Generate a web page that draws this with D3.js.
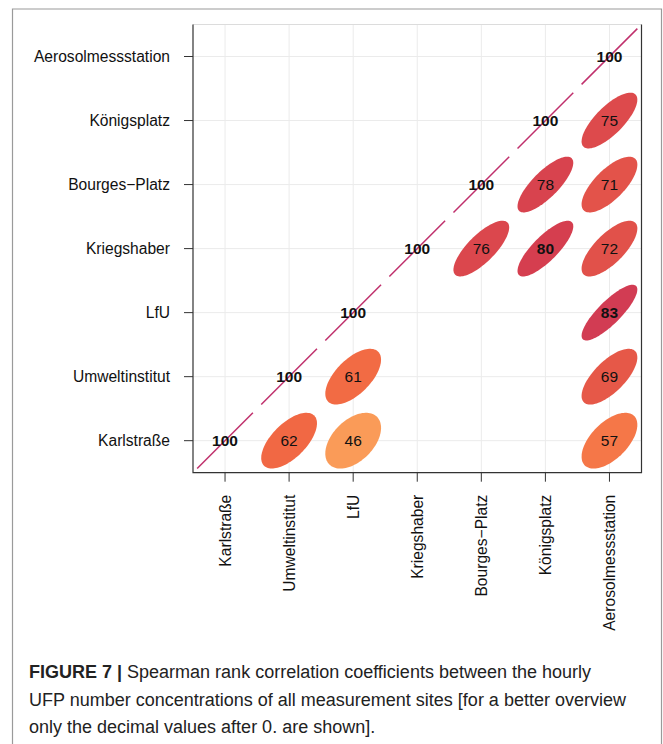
<!DOCTYPE html>
<html>
<head>
<meta charset="utf-8">
<script src="https://cdn.jsdelivr.net/npm/d3@7"></script>
<style>
  html, body { margin: 0; padding: 0; background: #fff; }
  svg { display: block; }
  text { font-family: "Liberation Sans", Arial, Helvetica, sans-serif; }
</style>
</head>
<body>
<svg id="chart" width="663" height="744"></svg>
<script>
// ---- data ----
const sites = ["Karlstraße", "Umweltinstitut", "LfU", "Kriegshaber", "Bourges−Platz", "Königsplatz", "Aerosolmessstation"];
const pairRow = ["Karlstraße", "Karlstraße", "Karlstraße", "Karlstraße",
                 "Umweltinstitut", "Umweltinstitut", "Umweltinstitut",
                 "LfU", "LfU",
                 "Kriegshaber", "Kriegshaber", "Kriegshaber", "Kriegshaber",
                 "Bourges−Platz", "Bourges−Platz", "Bourges−Platz",
                 "Königsplatz", "Königsplatz",
                 "Aerosolmessstation"];
const pairCol = ["Karlstraße", "Umweltinstitut", "LfU", "Aerosolmessstation",
                 "Umweltinstitut", "LfU", "Aerosolmessstation",
                 "LfU", "Aerosolmessstation",
                 "Kriegshaber", "Bourges−Platz", "Königsplatz", "Aerosolmessstation",
                 "Bourges−Platz", "Königsplatz", "Aerosolmessstation",
                 "Königsplatz", "Aerosolmessstation",
                 "Aerosolmessstation"];
const corrValues = [100, 62, 46, 57,
                    100, 61, 69,
                    100, 83,
                    100, 76, 80, 72,
                    100, 78, 71,
                    100, 75,
                    100];
const colourStops = ["#5E4FA2", "#3288BD", "#66C2A5", "#ABDDA4", "#E6F598", "#FFFFBF",
                     "#FEE08B", "#FDAE61", "#F46D43", "#D53E4F", "#C0306C"];
const captionBold = "FIGURE 7 | ";
const captionLines = [
  "Spearman rank correlation coefficients between the hourly",
  "UFP number concentrations of all measurement sites [for a better overview",
  "only the decimal values after 0. are shown]."
];

const cells = corrValues.map((v, i) => ({ row: pairRow[i], col: pairCol[i], value: v }));

// ---- layout ----
const svg = d3.select("#chart");
const pLeft = 193, pRight = 641.5, pTop = 24.5, pBottom = 472.7;

const x = d3.scaleBand().domain(sites).range([pLeft, pRight]).padding(0);
const y = d3.scaleBand().domain(sites).range([pBottom, pTop]).padding(0);
const bw = x.bandwidth();
const cx = s => x(s) + bw / 2;
const cyc = s => y(s) + y.bandwidth() / 2;

const colour = d3.scaleLinear()
  .domain(d3.range(colourStops.length).map(i => -100 + i * 200 / (colourStops.length - 1)))
  .range(colourStops)
  .interpolate(d3.interpolateRgb);

// outer figure frame
svg.append("path")
  .attr("d", `M12.5,744 L12.5,9 L661.5,9 L661.5,744`)
  .attr("fill", "none").attr("stroke", "#9a9a9a").attr("stroke-width", 1.2);

// grid
const grid = svg.append("g").attr("stroke", "#ebebeb").attr("stroke-width", 1);
grid.selectAll("line.v").data(sites).join("line").attr("class", "v")
  .attr("x1", d => cx(d)).attr("x2", d => cx(d)).attr("y1", pTop).attr("y2", pBottom);
grid.selectAll("line.h").data(sites).join("line").attr("class", "h")
  .attr("y1", d => cyc(d)).attr("y2", d => cyc(d)).attr("x1", pLeft).attr("x2", pRight);

// ellipses (ellipse package parametrisation)
const semi = bw * 0.435;
const angles = d3.range(0, 101).map(i => i / 100 * 2 * Math.PI);
const ellipsePath = d => {
  const dd = Math.acos(Math.max(-1, Math.min(1, d.value / 100)));
  const pts = angles.map(a => [cx(d.col) + semi * Math.cos(a + dd / 2),
                               cyc(d.row) - semi * Math.cos(a - dd / 2)]);
  return d3.line()(pts) + "Z";
};
svg.append("g").selectAll("path").data(cells.filter(d => d.value < 100)).join("path")
  .attr("d", ellipsePath)
  .attr("fill", d => colour(d.value))
  .attr("stroke", "none");

// diagonal (degenerate ellipses for r = 1)
svg.append("g").selectAll("line").data(cells.filter(d => d.value >= 100)).join("line")
  .attr("x1", d => cx(d.col) - semi).attr("y1", d => cyc(d.row) + semi)
  .attr("x2", d => cx(d.col) + semi).attr("y2", d => cyc(d.row) - semi)
  .attr("stroke", d => colour(d.value))
  .attr("stroke-width", 1.5);

// values
svg.append("g").selectAll("text").data(cells).join("text")
  .attr("x", d => cx(d.col)).attr("y", d => cyc(d.row))
  .attr("dy", "0.36em")
  .attr("text-anchor", "middle")
  .attr("font-size", 15.5)
  .attr("font-weight", d => d.value >= 80 ? "bold" : "normal")
  .attr("fill", "#111")
  .text(d => d.value);

// axes
const yAxis = svg.append("g").attr("transform", `translate(${pLeft},0)`)
  .call(d3.axisLeft(y).tickSize(9).tickPadding(14));
yAxis.select(".domain").remove();
yAxis.selectAll(".tick line").attr("stroke", "#333");
yAxis.selectAll(".tick text").attr("font-size", 15.6).attr("fill", "#111")
  .attr("font-family", "'Liberation Sans', Arial, sans-serif");

const xAxis = svg.append("g").attr("transform", `translate(0,${pBottom})`)
  .call(d3.axisBottom(x).tickSize(9).tickPadding(13));
xAxis.select(".domain").remove();
xAxis.selectAll(".tick line").attr("stroke", "#333");
xAxis.selectAll(".tick text")
  .attr("font-size", 15.6).attr("fill", "#111")
  .attr("font-family", "'Liberation Sans', Arial, sans-serif")
  .attr("transform", "rotate(-90)")
  .attr("text-anchor", "end")
  .attr("x", -22).attr("y", 0).attr("dy", "0.36em");

// plot box
svg.append("line").attr("x1", pLeft).attr("x2", pRight).attr("y1", pTop).attr("y2", pTop)
  .attr("stroke", "#dcdcdc");
svg.append("path")
  .attr("d", `M${pLeft},${pTop} L${pLeft},${pBottom} L${pRight},${pBottom} L${pRight},${pTop}`)
  .attr("fill", "none").attr("stroke", "#333").attr("stroke-width", 1.2);

// caption
const cap = svg.append("g").attr("font-size", 18).attr("fill", "#222");
captionLines.forEach((line, i) => {
  const t = cap.append("text").attr("x", 29).attr("y", 678 + i * 27.5);
  if (i === 0) t.append("tspan").attr("font-weight", "bold").text(captionBold);
  t.append("tspan").text(line);
});
</script>
</body>
</html>
